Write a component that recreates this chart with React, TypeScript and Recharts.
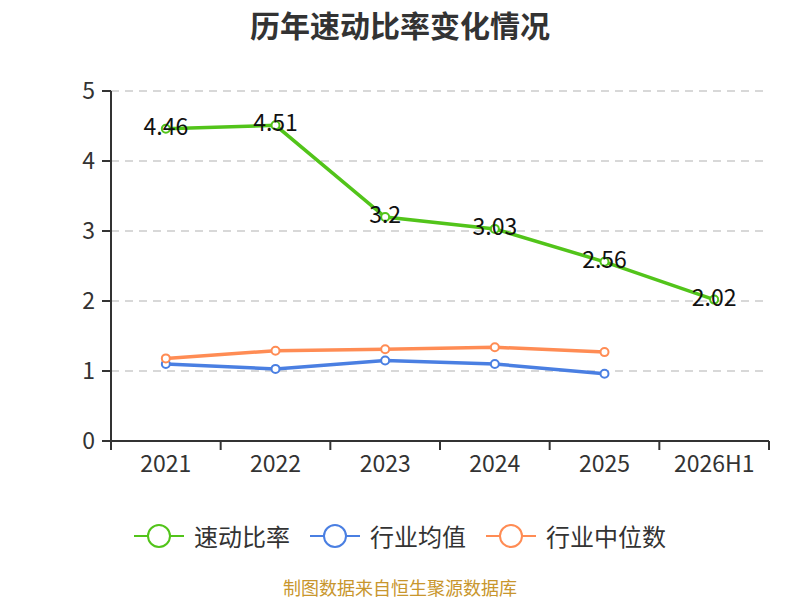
import React from 'react';
import { LineChart, Line, XAxis, YAxis, CartesianGrid, LabelList } from 'recharts';

const years = ['2021', '2022', '2023', '2024', '2025', '2026H1'];
const quickRatio = [4.46, 4.51, 3.2, 3.03, 2.56, 2.02];
const industryAvg = [1.1, 1.03, 1.15, 1.1, 0.96, null];
const industryMedian = [1.18, 1.29, 1.31, 1.34, 1.27, null];
const yTicks = [0, 1, 2, 3, 4, 5];

const FONT = "'Noto Sans CJK SC', 'Noto Sans', sans-serif";

const series = [
  { key: 'quick', name: '速动比率', color: '#52c41a', labels: true },
  { key: 'avg', name: '行业均值', color: '#4a7fe2', labels: false },
  { key: 'median', name: '行业中位数', color: '#ff8c54', labels: false },
];

const data = years.map((year, i) => ({
  year,
  quick: quickRatio[i],
  avg: industryAvg[i],
  median: industryMedian[i],
}));

const TICK_SIZE = 9;
const TICK_MARGIN = 6;

// category labels in the middle of the band, tick marks on the band edges
const YearTick = (props: any) => {
  const { x, y, payload, width, visibleTicksCount, index } = props;
  const half = width / visibleTicksCount / 2;
  const axisY = y - TICK_SIZE - TICK_MARGIN;
  const isLast = index === visibleTicksCount - 1;
  return (
    <g>
      <line x1={x - half} x2={x - half} y1={axisY} y2={axisY + TICK_SIZE} stroke="#333" strokeWidth={2} />
      {isLast && (
        <line x1={x + half} x2={x + half} y1={axisY} y2={axisY + TICK_SIZE} stroke="#333" strokeWidth={2} />
      )}
      <text x={x} y={y} dy="0.71em" textAnchor="middle" fill="#333" fontSize={23} fontFamily={FONT}>
        {payload.value}
      </text>
    </g>
  );
};

const ValueLabel = (props: any) => {
  const { x, y, value } = props;
  if (value == null) return null;
  return (
    <text
      x={x}
      y={y}
      dy={-4}
      textAnchor="middle"
      dominantBaseline="central"
      fill="#111"
      fontSize={23}
      fontFamily={FONT}
    >
      {value}
    </text>
  );
};

const Legend = () => (
  <div
    style={{
      position: 'absolute',
      left: 0,
      top: 522,
      width: 800,
      display: 'flex',
      justifyContent: 'center',
      gap: 20,
      fontFamily: FONT,
    }}
  >
    {series.map((s) => (
      <div key={s.key} style={{ display: 'flex', alignItems: 'center' }}>
        <svg width={50} height={28}>
          <line x1={0} x2={50} y1={14} y2={14} stroke={s.color} strokeWidth={2} />
          <circle cx={25} cy={14} r={11} fill="#fff" stroke={s.color} strokeWidth={2} />
        </svg>
        <span style={{ marginLeft: 10, fontSize: 24, color: '#333', lineHeight: '28px' }}>{s.name}</span>
      </div>
    ))}
  </div>
);

export default function App() {
  return (
    <div style={{ position: 'absolute', left: 0, top: 0, width: 800, height: 600, background: '#fff' }}>
      <div
        style={{
          position: 'absolute',
          left: 0,
          top: 6,
          width: 800,
          textAlign: 'center',
          fontFamily: FONT,
          fontWeight: 'bold',
          fontSize: 30,
          lineHeight: '36px',
          color: '#333',
        }}
      >
        历年速动比率变化情况
      </div>
      <LineChart width={800} height={600} data={data} margin={{ top: 91, right: 31, bottom: 119, left: 51 }}>
        <CartesianGrid vertical={false} stroke="#ccc" strokeWidth={1.5} strokeDasharray="8 6" />
        <XAxis
          dataKey="year"
          scale="band"
          height={40}
          axisLine={{ stroke: '#333', strokeWidth: 2 }}
          tickLine={false}
          tickSize={TICK_SIZE}
          tickMargin={TICK_MARGIN}
          tick={<YearTick />}
          interval={0}
        />
        <YAxis
          width={60}
          domain={[0, 5]}
          ticks={yTicks}
          axisLine={{ stroke: '#333', strokeWidth: 2 }}
          tickLine={{ stroke: '#333', strokeWidth: 2 }}
          tickSize={9}
          tickMargin={7}
          tick={{ fill: '#333', fontSize: 23, fontFamily: FONT }}
        />
        {series.map((s) => (
          <Line
            key={s.key}
            dataKey={s.key}
            name={s.name}
            type="linear"
            stroke={s.color}
            strokeWidth={3.5}
            dot={{ r: 4, fill: '#fff', stroke: s.color, strokeWidth: 2 }}
            activeDot={false}
            isAnimationActive={false}
          >
            {s.labels && <LabelList dataKey={s.key} content={<ValueLabel />} />}
          </Line>
        ))}
      </LineChart>
      <Legend />
      <div
        style={{
          position: 'absolute',
          left: 0,
          top: 577,
          width: 800,
          textAlign: 'center',
          fontFamily: FONT,
          fontSize: 18,
          lineHeight: '20px',
          color: '#c8962d',
        }}
      >
        制图数据来自恒生聚源数据库
      </div>
    </div>
  );
}
